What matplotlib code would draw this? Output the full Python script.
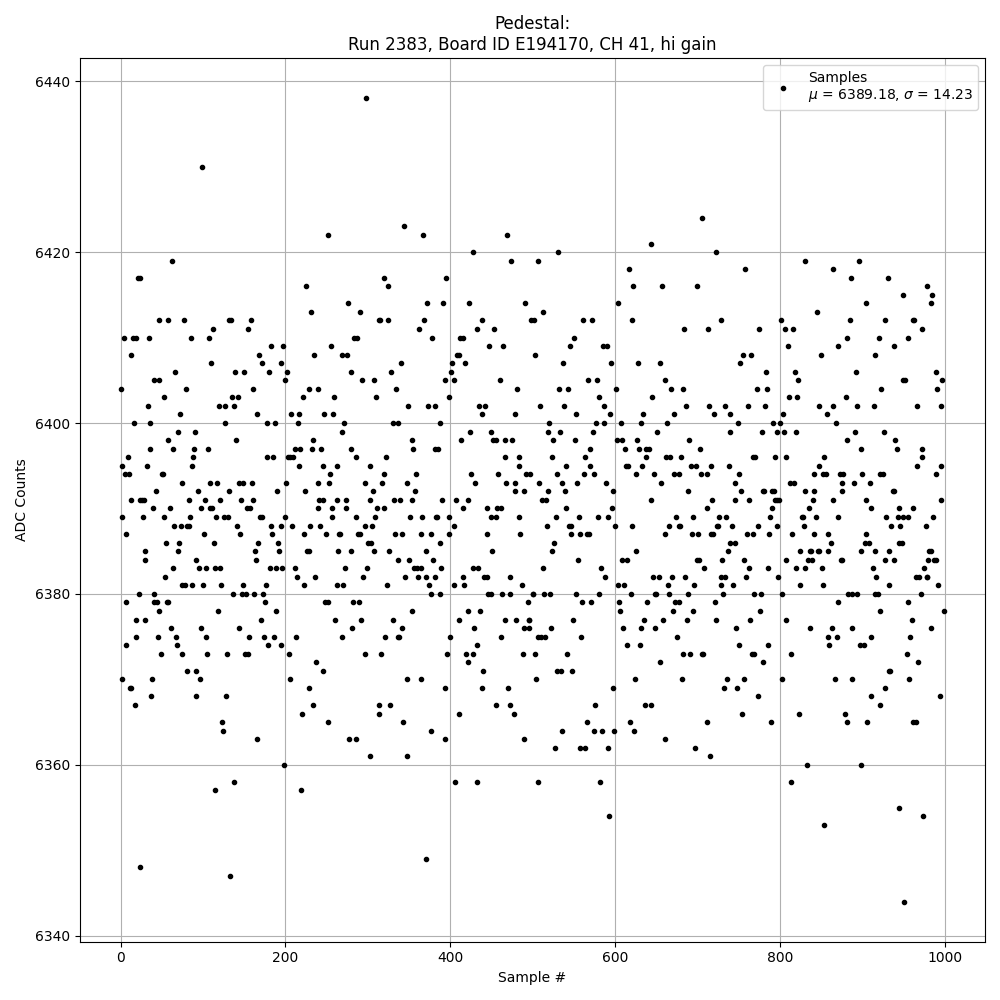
"""Pedestal samples for one channel, ADC counts against sample number."""

import matplotlib

matplotlib.use("Agg")
import matplotlib.pyplot as plt

# ADC levels and the sample numbers found on each level
count_levels = [
    6438, 6430, 6424, 6423, 6422, 6421, 6420, 6419, 6418, 6417, 6416, 6415, 6414,
    6413, 6412, 6411, 6410, 6409, 6408, 6407, 6406, 6405, 6404, 6403, 6402, 6401,
    6400, 6399, 6398, 6397, 6396, 6395, 6394, 6393, 6392, 6391, 6390, 6389, 6388,
    6387, 6386, 6385, 6384, 6383, 6382, 6381, 6380, 6379, 6378, 6377, 6376, 6375,
    6374, 6373, 6372, 6371, 6370, 6369, 6368, 6367, 6366, 6365, 6364, 6363, 6362,
    6361, 6360, 6358, 6357, 6355, 6354, 6353, 6349, 6348, 6347, 6344,
]
samples_at_level = [
    [298],
    [99],
    [706],
    [344],
    [251, 367, 469],
    [643],
    [428, 531, 723],
    [62, 474, 506, 830, 896],
    [617, 758, 865],
    [21, 23, 319, 395, 886, 931],
    [225, 325, 622, 657, 700, 978],
    [949, 985],
    [276, 372, 391, 423, 491, 604, 904, 983],
    [231, 291, 513, 845],
    [46, 57, 77, 131, 134, 158, 314, 315, 325, 368, 439, 498, 502, 561, 572, 621,
     729, 801, 885, 928, 961, 963],
    [112, 155, 362, 432, 453, 684, 713, 775, 806, 816, 972],
    [4, 15, 18, 34, 85, 107, 283, 287, 378, 412, 416, 550, 881, 920, 956],
    [183, 197, 255, 447, 464, 545, 585, 590, 810, 871, 939],
    [13, 168, 235, 269, 275, 408, 410, 503, 755, 765, 850, 915],
    [110, 172, 195, 340, 402, 418, 537, 595, 628, 655, 752],
    [66, 139, 150, 180, 202, 280, 328, 401, 783, 818, 892, 990],
    [40, 46, 200, 293, 308, 393, 405, 460, 567, 578, 661, 822, 949, 952, 997],
    [0, 79, 161, 229, 240, 334, 481, 532, 543, 601, 668, 683, 772, 784, 923, 991],
    [52, 135, 142, 221, 259, 310, 399, 581, 645, 811, 821, 880],
    [33, 119, 127, 138, 349, 373, 382, 435, 442, 509, 538, 587, 686, 714, 734, 761,
     782, 847, 864, 893, 914, 966, 996],
    [72, 166, 207, 217, 247, 258, 438, 479, 553, 594, 634, 672, 720, 740, 804, 857],
    [16, 35, 127, 178, 187, 215, 271, 330, 337, 388, 520, 577, 587, 607, 632, 663,
     749, 792, 800, 868],
    [69, 90, 269, 424, 450, 519, 533, 573, 651, 740, 778, 796, 805, 819, 891, 926],
    [58, 140, 234, 354, 413, 452, 456, 467, 475, 525, 551, 602, 609, 627, 690, 882,
     940],
    [35, 63, 89, 106, 212, 218, 232, 243, 280, 355, 382, 385, 570, 612, 629, 638,
     641, 703, 898, 942, 973],
    [9, 88, 178, 185, 203, 206, 209, 286, 322, 467, 484, 523, 564, 638, 662, 667,
     680, 767, 770, 794, 808, 854, 972],
    [2, 32, 86, 217, 246, 263, 302, 484, 540, 570, 613, 616, 633, 692, 698, 717,
     738, 848, 967, 995],
    [5, 10, 50, 51, 254, 320, 359, 425, 458, 492, 497, 530, 562, 574, 626, 647, 672,
     678, 704, 711, 751, 841, 852, 856, 873, 877, 900, 922, 925, 989],
    [74, 108, 117, 144, 148, 159, 201, 239, 253, 297, 317, 348, 430, 468, 479, 508,
     536, 554, 589, 656, 746, 812, 817, 875, 890, 909],
    [43, 94, 131, 190, 224, 306, 357, 478, 489, 519, 539, 598, 689, 753, 779, 781,
     790, 793, 830, 842, 876, 937, 938],
    [12, 23, 26, 28, 83, 102, 120, 146, 161, 241, 246, 263, 274, 303, 332, 339, 354,
     390, 407, 421, 511, 516, 644, 718, 746, 762, 794, 796, 799, 840, 864, 904, 995],
    [39, 60, 97, 108, 111, 153, 157, 240, 257, 274, 311, 320, 415, 444, 457, 462,
     540, 596, 712, 790, 835, 910, 944, 961],
    [1, 27, 52, 84, 116, 125, 130, 169, 172, 200, 257, 286, 309, 351, 366, 383, 384,
     398, 449, 456, 483, 528, 556, 579, 591, 674, 695, 726, 735, 788, 827, 828, 844,
     870, 929, 943, 950, 955, 986],
    [65, 73, 80, 83, 141, 183, 194, 208, 230, 242, 296, 305, 404, 517, 544, 547, 600,
     621, 666, 677, 679, 724, 725, 742, 773, 796, 829, 935, 946, 977],
    [7, 101, 145, 184, 223, 249, 265, 266, 288, 291, 333, 342, 365, 377, 399, 445,
     485, 547, 557, 566, 568, 661, 693, 701, 717, 719, 760, 767, 787, 815, 841, 858,
     905],
    [55, 71, 113, 167, 191, 300, 304, 388, 526, 740, 745, 862, 903, 908, 944, 948],
    [29, 69, 163, 192, 226, 229, 264, 279, 308, 326, 370, 451, 523, 626, 737, 824,
     836, 838, 846, 847, 859, 899, 916, 933, 981, 983],
    [29, 91, 164, 337, 350, 379, 555, 609, 615, 700, 702, 730, 757, 807, 834, 839,
     874, 875, 927, 938, 980, 987, 990],
    [63, 95, 103, 114, 120, 181, 189, 196, 211, 272, 299, 356, 360, 365, 389, 427,
     434, 513, 583, 708, 762, 785, 819, 831, 851, 913, 975],
    [54, 214, 236, 294, 345, 361, 371, 381, 416, 441, 445, 473, 588, 646, 653, 669,
     685, 728, 734, 759, 798, 917, 965, 969, 978, 979],
    [74, 78, 86, 100, 122, 148, 176, 223, 262, 270, 323, 374, 405, 417, 487, 604, 611,
     664, 696, 729, 743, 825, 852, 932, 992],
    [22, 40, 136, 147, 152, 162, 173, 377, 387, 446, 450, 463, 473, 500, 501, 514,
     521, 553, 581, 619, 649, 650, 666, 689, 731, 769, 777, 802, 883, 887, 894, 915,
     919, 971],
    [6, 41, 44, 56, 58, 175, 248, 252, 282, 289, 494, 560, 571, 605, 639, 673, 678,
     721, 870, 955],
    [47, 118, 189, 353, 422, 436, 606, 670, 695, 776, 921, 999],
    [18, 30, 170, 260, 292, 331, 411, 466, 480, 495, 496, 549, 635, 658, 687, 723,
     764, 807, 960],
    [61, 97, 144, 281, 342, 429, 490, 496, 522, 610, 632, 649, 747, 836, 863, 887,
     984],
    [19, 45, 67, 103, 156, 174, 186, 213, 268, 321, 336, 338, 400, 462, 507, 510, 515,
     559, 675, 858, 869, 910, 958],
    [6, 68, 179, 195, 433, 615, 630, 751, 785, 860, 897, 902],
    [49, 75, 105, 129, 151, 155, 204, 297, 316, 396, 419, 428, 488, 503, 542, 683,
     691, 706, 707, 766, 769, 813, 954],
    [237, 422, 655, 779, 968],
    [80, 91, 245, 440, 530, 534, 548, 932, 934],
    [1, 38, 96, 206, 347, 364, 504, 624, 681, 736, 757, 802, 867, 888, 957],
    [11, 12, 228, 394, 439, 470, 598, 732, 748, 927],
    [37, 92, 128, 773, 911, 994],
    [17, 234, 314, 327, 455, 472, 576, 636, 644, 921],
    [220, 313, 411, 477, 754, 823, 879],
    [123, 252, 343, 566, 618, 712, 789, 881, 906, 962, 965],
    [124, 376, 536, 574, 584, 599, 623],
    [166, 277, 285, 394, 490, 660],
    [527, 557, 564, 592, 697],
    [303, 348, 715],
    [198, 833, 898],
    [138, 406, 433, 506, 582, 813],
    [114, 219],
    [945],
    [593, 974],
    [854],
    [370],
    [24],
    [133],
    [951],
]

legend_label = "Samples\n$\\mu$ = 6389.18, $\\sigma$ = 14.23"
title_text = "Pedestal:\nRun 2383, Board ID E194170, CH 41, hi gain"

# Flatten the levels to one (sample, counts) series, in sample order
points = sorted(
    (sample, level)
    for level, samples in zip(count_levels, samples_at_level)
    for sample in samples
)
sample_numbers = [p[0] for p in points]
adc_counts = [p[1] for p in points]

fig, ax = plt.subplots(figsize=(10, 10), dpi=100)
ax.plot(sample_numbers, adc_counts, "k.", label=legend_label)
ax.set_xlabel("Sample #")
ax.set_ylabel("ADC Counts")
ax.set_title(title_text)
ax.grid(True)
ax.legend(loc="upper right")
fig.tight_layout()
fig.savefig("out.png")
